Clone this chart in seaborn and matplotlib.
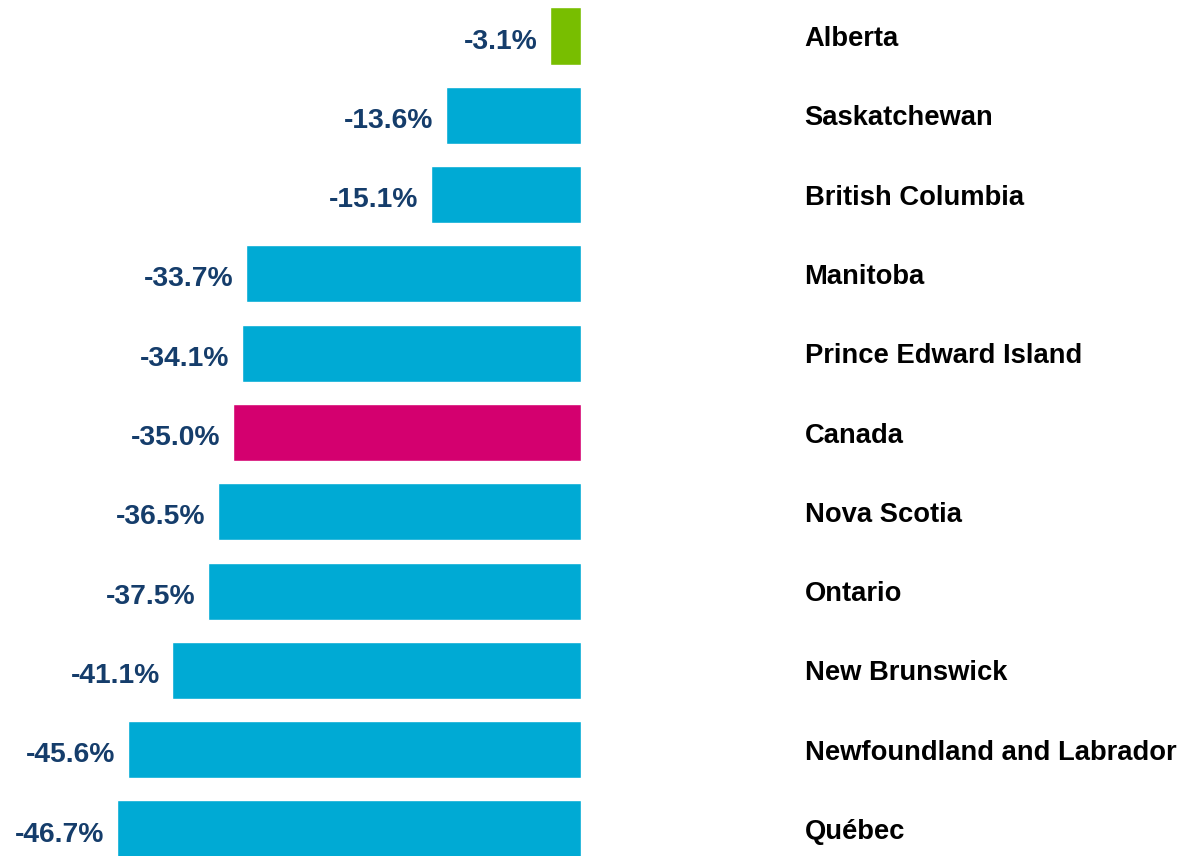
import matplotlib
matplotlib.use("Agg")
import matplotlib.pyplot as plt
import seaborn as sns
import pandas as pd

regions = ["Alberta", "Saskatchewan", "British Columbia", "Manitoba",
           "Prince Edward Island", "Canada", "Nova Scotia", "Ontario",
           "New Brunswick", "Newfoundland and Labrador", "Québec"]
values = [-3.1, -13.6, -15.1, -33.7, -34.1, -35.0, -36.5, -37.5, -41.1, -45.6, -46.7]

BLUE = "#00AAD4"
GREEN = "#78BE00"
MAGENTA = "#D4006F"
NAVY = "#153D6B"
bar_colors = {r: BLUE for r in regions}
bar_colors["Alberta"] = GREEN
bar_colors["Canada"] = MAGENTA

df = pd.DataFrame({"region": regions, "value": values})

sns.set_theme(style="white")
plt.rcParams["font.family"] = ["Liberation Sans", "DejaVu Sans"]

fig = plt.figure(figsize=(11.82, 8.56), dpi=100)
ax = fig.add_axes([0, 0, 581 / 1182, 1])

sns.barplot(data=df, x="value", y="region", hue="region", palette=bar_colors,
            legend=False, width=0.72, orient="h", saturation=1, ax=ax)

ax.set_xlim(-58.45, 0)
ax.set_ylim(10.34, -0.454)

for cont in ax.containers:
    anns = ax.bar_label(cont, fmt="%.1f%%", padding=9, color=NAVY,
                        fontsize=20.3, fontweight="bold")
    for a in anns:
        a.xyann = (a.xyann[0], a.xyann[1] - 4)

ax.yaxis.tick_right()
ax.tick_params(axis="y", length=0, pad=161, labelsize=19.7)
for lab in ax.get_yticklabels():
    lab.set_fontweight("bold")
    lab.set_color("black")
ax.set_xticks([])
ax.set_xlabel("")
ax.set_ylabel("")
for s in ax.spines.values():
    s.set_visible(False)

fig.savefig("out.png", dpi=100)
